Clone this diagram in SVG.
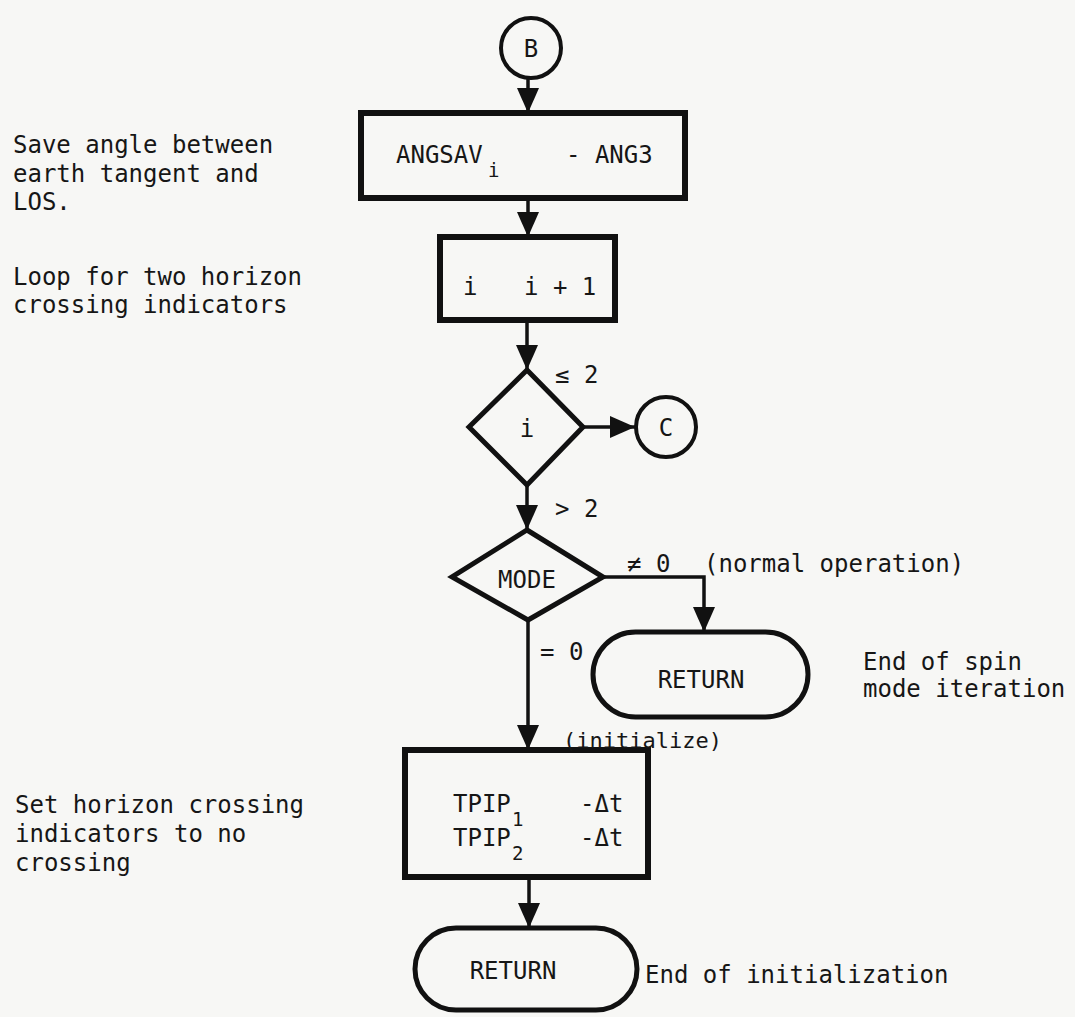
<svg xmlns="http://www.w3.org/2000/svg" width="1075" height="1017" viewBox="0 0 1075 1017">
<defs>
<style>
.t{font-family:"DejaVu Sans Mono","Liberation Mono",monospace;font-size:24px;fill:#161616}
.s{font-family:"DejaVu Sans Mono","Liberation Mono",monospace;font-size:19px;fill:#161616}
.c{text-anchor:middle}
.box{fill:none;stroke:#111;stroke-width:6}
.dia{fill:none;stroke:#111;stroke-width:5;stroke-linejoin:miter}
.circ{fill:none;stroke:#111;stroke-width:4}
.con{fill:none;stroke:#111;stroke-width:3.5}
</style>
<marker id="ah" markerUnits="userSpaceOnUse" markerWidth="26" markerHeight="22" refX="25" refY="11" orient="auto">
<path d="M0,0 L25,11 L0,22 z" fill="#111"/>
</marker>
</defs>
<rect x="0" y="0" width="1075" height="1017" fill="#f7f7f5"/>

<g id="connectors">
<path class="con" d="M528,78 V113" marker-end="url(#ah)"/>
<path class="con" d="M528,198 V237" marker-end="url(#ah)"/>
<path class="con" d="M527,320 V370" marker-end="url(#ah)"/>
<path class="con" d="M583,427 H635" marker-end="url(#ah)"/>
<path class="con" d="M527,485 V530" marker-end="url(#ah)"/>
<path class="con" d="M603,577 H704 V632" marker-end="url(#ah)"/>
<path class="con" d="M528,620 V750" marker-end="url(#ah)"/>
<path class="con" d="M529,877 V928" marker-end="url(#ah)"/>
</g>

<g id="nodeB">
<circle class="circ" cx="531" cy="48" r="30"/>
<text class="t c" x="531" y="57">B</text>
</g>

<g id="angsav">
<rect class="box" x="361" y="113" width="324" height="85"/>
<text class="t" x="396" y="163">ANGSAV</text>
<text class="s" x="488" y="177">i</text>
<text class="t" x="566" y="163">- ANG3</text>
</g>

<g id="increment">
<rect class="box" x="440" y="237" width="175" height="83"/>
<text class="t" x="463" y="295">i</text>
<text class="t" x="524" y="295">i + 1</text>
</g>

<g id="decisionI">
<polygon class="dia" points="527,370 583,427 527,485 469,427"/>
<text class="t c" x="527" y="437">i</text>
</g>

<g id="nodeC">
<circle class="circ" cx="666" cy="427" r="30"/>
<text class="t c" x="666" y="436">C</text>
</g>

<g id="decisionMode">
<polygon class="dia" points="527,530 603,577 528,620 452,577"/>
<text class="t c" x="527" y="588">MODE</text>
</g>

<g id="return1">
<rect class="box" x="593" y="632" width="215" height="85" rx="42.5" ry="42.5" style="stroke-width:5"/>
<text class="t c" x="701" y="688">RETURN</text>
</g>

<g id="init">
<rect class="box" x="405" y="750" width="243" height="127"/>
<text class="t" x="453" y="812">TPIP</text>
<text class="s" x="512" y="826">1</text>
<text class="t" x="580" y="812">-Δt</text>
<text class="t" x="453" y="846">TPIP</text>
<text class="s" x="512" y="860">2</text>
<text class="t" x="580" y="846">-Δt</text>
</g>

<g id="return2">
<rect class="box" x="415" y="928" width="222" height="82" rx="41" ry="41" style="stroke-width:5"/>
<text class="t c" x="513" y="979">RETURN</text>
</g>

<g id="labels">
<text class="t" x="555" y="383">≤ 2</text>
<text class="t" x="555" y="517">&gt; 2</text>
<text class="t" x="627" y="572">≠ 0</text>
<text class="t" x="704" y="572">(normal operation)</text>
<text class="t" x="540" y="660">= 0</text>
<text class="t" x="563" y="748" style="font-size:22px">(initialize)</text>
</g>

<g id="notes">
<text class="t" x="13" y="153">Save angle between</text>
<text class="t" x="13" y="182">earth tangent and</text>
<text class="t" x="13" y="210">LOS.</text>
<text class="t" x="13" y="285">Loop for two horizon</text>
<text class="t" x="13" y="313">crossing indicators</text>
<text class="t" x="15" y="813">Set horizon crossing</text>
<text class="t" x="15" y="842">indicators to no</text>
<text class="t" x="15" y="871">crossing</text>
<text class="t" x="863" y="670">End of spin</text>
<text class="t" x="863" y="697">mode iteration</text>
<text class="t" x="645" y="983">End of initialization</text>
</g>
</svg>
